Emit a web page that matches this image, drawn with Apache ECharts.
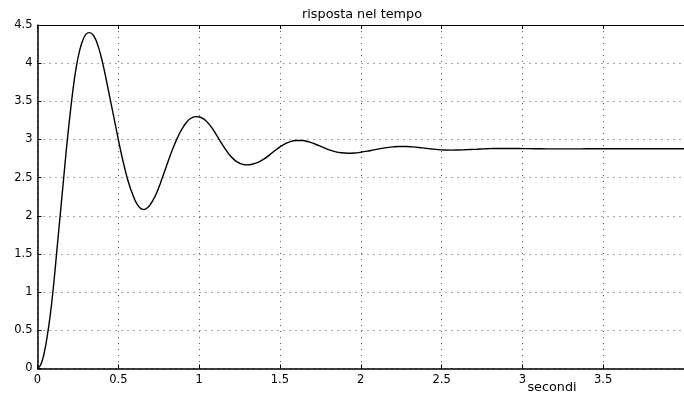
<!DOCTYPE html>
<html>
<head>
<meta charset="utf-8">
<script src="https://cdn.jsdelivr.net/npm/echarts@6/dist/echarts.min.js"></script>
<style>
  html, body { margin: 0; padding: 0; background: #fff; }
  #chart { width: 684px; height: 396px; }
</style>
</head>
<body>
<div id="chart"></div>
<script>
// Values (time in seconds, response)
const timeValues = [
  0, 0.02, 0.04, 0.06, 0.08, 0.10, 0.12, 0.14, 0.16, 0.18, 0.20, 0.22, 0.24, 0.26, 0.28, 0.30, 0.32, 0.34, 0.36, 0.38,
  0.40, 0.42, 0.44, 0.46, 0.48, 0.50, 0.52, 0.54, 0.56, 0.58, 0.60, 0.62, 0.64, 0.66, 0.68, 0.70, 0.72, 0.74, 0.76, 0.78,
  0.80, 0.82, 0.84, 0.86, 0.88, 0.90, 0.92, 0.94, 0.96, 0.98, 1.00, 1.02, 1.04, 1.06, 1.08, 1.10, 1.12, 1.14, 1.16, 1.18,
  1.20, 1.22, 1.24, 1.26, 1.28, 1.30, 1.32, 1.36, 1.40, 1.44, 1.48, 1.52, 1.56, 1.60, 1.64, 1.68, 1.72, 1.76, 1.80, 1.84,
  1.88, 1.92, 1.96, 2.00, 2.04, 2.08, 2.12, 2.16, 2.20, 2.24, 2.28, 2.32, 2.36, 2.40, 2.44, 2.48, 2.52, 2.56, 2.60, 2.64,
  2.68, 2.72, 2.76, 2.80, 2.84, 2.88, 2.92, 2.96, 3.00, 3.08, 3.16, 3.24, 3.32, 3.40, 3.50, 3.60, 3.70, 3.80, 3.90, 4.00
];
const responseValues = [
  0, 0.05, 0.19, 0.42, 0.72, 1.10, 1.55, 2.00, 2.45, 2.90, 3.30, 3.66, 3.95, 4.16, 4.30, 4.38, 4.40, 4.38, 4.31, 4.19,
  4.03, 3.84, 3.63, 3.42, 3.21, 3.00, 2.80, 2.62, 2.46, 2.33, 2.22, 2.14, 2.095, 2.082, 2.105, 2.155, 2.225, 2.315, 2.425, 2.545,
  2.665, 2.785, 2.895, 2.995, 3.085, 3.16, 3.22, 3.265, 3.29, 3.30, 3.295, 3.28, 3.25, 3.205, 3.15, 3.085, 3.015, 2.945, 2.88, 2.82,
  2.77, 2.73, 2.70, 2.68, 2.67, 2.668, 2.673, 2.697, 2.742, 2.805, 2.872, 2.93, 2.968, 2.986, 2.986, 2.968, 2.938, 2.903, 2.868, 2.842,
  2.826, 2.82, 2.823, 2.833, 2.847, 2.864, 2.88, 2.893, 2.903, 2.908, 2.908, 2.903, 2.895, 2.885, 2.876, 2.868, 2.863, 2.861, 2.862, 2.865,
  2.869, 2.873, 2.877, 2.880, 2.882, 2.883, 2.883, 2.882, 2.881, 2.879, 2.877, 2.877, 2.877, 2.878, 2.878, 2.878, 2.878, 2.878, 2.878, 2.878
];
const xTicks = [0, 0.5, 1, 1.5, 2, 2.5, 3, 3.5];
const yTicks = [0, 0.5, 1, 1.5, 2, 2.5, 3, 3.5, 4, 4.5];
const chartTitle = 'risposta nel tempo';
const xLabel = 'secondi';

const fontFam = '"DejaVu Sans", sans-serif';
const seriesData = timeValues.map((t, i) => [t, responseValues[i]]);
const gridDots = { color: '#555', width: 1, type: [1, 5] };

const chart = echarts.init(document.getElementById('chart'), null, { renderer: 'canvas' });
chart.setOption({
  animation: false,
  backgroundColor: '#fff',
  grid: { left: 37.5, right: -3, top: 25, bottom: 27.5, containLabel: false },
  xAxis: [{
    type: 'value', position: 'bottom',
    min: xTicks[0], max: 4, interval: 0.5,
    axisLine: { show: true, onZero: false, lineStyle: { color: '#000', width: 1.5 } },
    axisTick: { show: true, inside: true, length: 4, lineStyle: { color: '#000' } },
    axisLabel: {
      show: true, margin: 6, color: '#000', fontFamily: fontFam, fontSize: 11.5,
      showMaxLabel: false,
      formatter: v => (xTicks.indexOf(v) >= 0 ? String(v) : '')
    },
    splitLine: { show: true, lineStyle: gridDots }
  }, {
    type: 'value', position: 'top',
    min: xTicks[0], max: 4, interval: 0.5,
    axisLine: { show: true, onZero: false, lineStyle: { color: '#000', width: 1 } },
    axisTick: { show: true, inside: true, length: 4, lineStyle: { color: '#000' } },
    axisLabel: { show: false },
    splitLine: { show: false }
  }],
  yAxis: {
    type: 'value',
    min: yTicks[0], max: yTicks[yTicks.length - 1], interval: 0.5,
    axisLine: { show: true, onZero: false, lineStyle: { color: '#000', width: 1.5 } },
    axisTick: { show: true, inside: true, length: 4, lineStyle: { color: '#000' } },
    axisLabel: { show: true, margin: 5, color: '#000', fontFamily: fontFam, fontSize: 11.5 },
    splitLine: { show: true, lineStyle: gridDots }
  },
  graphic: [{
    type: 'text', x: 362, y: 15,
    style: { text: chartTitle, fill: '#000', font: '12.8px ' + fontFam, align: 'center', verticalAlign: 'middle' }
  }, {
    type: 'text', x: 552, y: 388,
    style: { text: xLabel, fill: '#000', font: '12.8px ' + fontFam, align: 'center', verticalAlign: 'middle' }
  }],
  series: [{
    type: 'line', xAxisIndex: 0,
    data: seriesData,
    showSymbol: false, symbol: 'none',
    smooth: 0.4,
    lineStyle: { color: '#000', width: 1.4 },
    clip: true
  }]
});
</script>
</body>
</html>
